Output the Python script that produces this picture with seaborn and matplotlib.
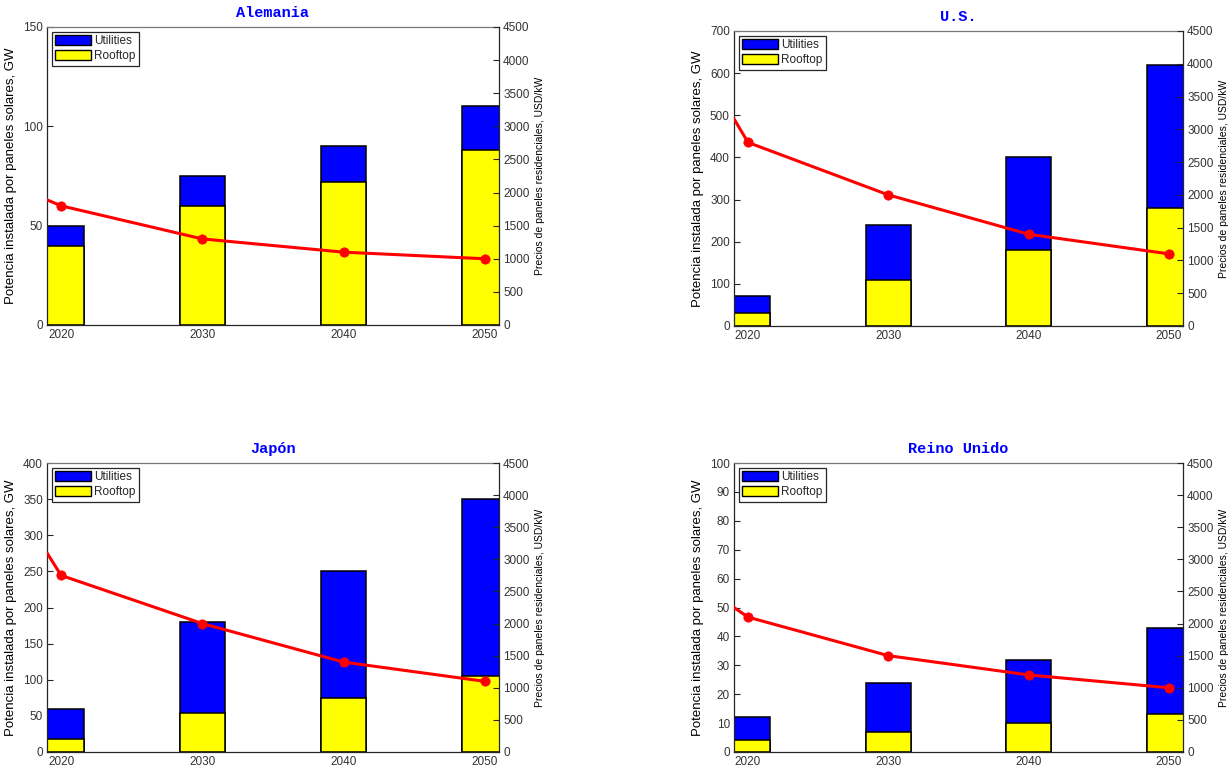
import pandas as pd
import numpy as np
import matplotlib.pyplot as plt
import seaborn as sns
from matplotlib.patches import Patch

# Potencia instalada (GW): total = utilities + rooftop, y la parte rooftop
years = [2020, 2030, 2040, 2050]

alemania_total = [50, 75, 90, 110]
alemania_rooftop = [40, 60, 72, 88]
us_total = [70, 240, 400, 620]
us_rooftop = [31.5, 108, 180, 279]
japon_total = [60, 180, 250, 350]
japon_rooftop = [18, 54, 75, 105]
uk_total = [12, 24, 32, 43]
uk_rooftop = [4, 7, 10, 13]

# Precios residenciales (USD/kW); el primer punto queda en el borde del eje
price_years = [2019, 2020, 2030, 2040, 2050]
alemania_price = [1890, 1800, 1300, 1100, 1000]
us_price = [3160, 2800, 2000, 1400, 1100]
japon_price = [3100, 2750, 2000, 1400, 1100]
uk_price = [2250, 2100, 1500, 1200, 1000]

titles = ['Alemania', 'U.S.', 'Japón', 'Reino Unido']
left_ymax = [150, 700, 400, 100]
left_ystep = [50, 100, 50, 10]

sns.set_theme(style='white')
plt.rcParams['font.family'] = ['Liberation Sans', 'DejaVu Sans']

W, H = 1230, 772
fig = plt.figure(figsize=(W / 100, H / 100), dpi=100)

# cajas de los ejes en pixeles: izquierda, arriba, derecha, abajo
boxes = [(47, 27, 499, 325), (734, 31, 1183, 326),
         (47, 463, 499, 752), (734, 463, 1183, 752)]

panels = [
    (alemania_total, alemania_rooftop, alemania_price),
    (us_total, us_rooftop, us_price),
    (japon_total, japon_rooftop, japon_price),
    (uk_total, uk_rooftop, uk_price),
]

dark = '#262626'

for i, (total, rooftop, price) in enumerate(panels):
    l, t, r, b = boxes[i]
    ax = fig.add_axes([l / W, 1 - b / H, (r - l) / W, (b - t) / H])

    bars = pd.DataFrame({'year': years, 'total': total, 'rooftop': rooftop})
    sns.barplot(data=bars, x='year', y='total', native_scale=True, width=0.32,
                color='#0000ff', edgecolor='black', linewidth=1.1,
                saturation=1, errorbar=None, ax=ax)
    sns.barplot(data=bars, x='year', y='rooftop', native_scale=True, width=0.32,
                color='#ffff00', edgecolor='black', linewidth=1.1,
                saturation=1, errorbar=None, ax=ax)

    ax2 = ax.twinx()
    prices = pd.DataFrame({'year': price_years, 'price': price})
    sns.lineplot(data=prices, x='year', y='price', color='#ff0000',
                 linewidth=2.2, ax=ax2)
    sns.scatterplot(data=prices[prices['year'].isin(years)], x='year', y='price',
                    color='#ff0000', edgecolor='#ff0000', s=45, zorder=5, ax=ax2)

    ax.set_xlim(2019, 2051)
    ax.set_xticks(years)
    ax.set_xticklabels([str(y) for y in years])
    ax.set_ylim(0, left_ymax[i])
    ax.set_yticks(np.arange(0, left_ymax[i] + 1, left_ystep[i]))
    ax2.set_ylim(0, 4500)
    ax2.set_yticks(np.arange(0, 4501, 500))
    ax2.set_xlim(2019, 2051)

    ax.set_xlabel('')
    ax.set_ylabel('Potencia instalada por paneles solares, GW', fontsize=9.5,
                  color='black', labelpad=4)
    ax2.set_xlabel('')
    ax2.set_ylabel('Precios de paneles residenciales, USD/kW', fontsize=7.5,
                   color='black', labelpad=4)

    ax.set_title(titles[i], fontfamily='Liberation Mono', fontweight='bold',
                 color='#0000ff', fontsize=11, pad=7)

    for a in (ax, ax2):
        a.tick_params(direction='in', length=4, width=0.8, colors=dark,
                      labelsize=8.5, pad=3)
    ax.tick_params(axis='both', labelcolor='#333333')
    ax2.tick_params(axis='y', labelcolor='#333333')

    for side in ['left', 'bottom']:
        ax.spines[side].set_color(dark)
        ax.spines[side].set_linewidth(0.9)
    ax.spines['top'].set_color('#777777')
    ax.spines['top'].set_linewidth(0.9)
    ax.spines['right'].set_visible(False)
    for side in ['left', 'bottom', 'top']:
        ax2.spines[side].set_visible(False)
    ax2.spines['right'].set_color(dark)
    ax2.spines['right'].set_linewidth(0.9)

    handles = [Patch(facecolor='#0000ff', edgecolor='black', label='Utilities'),
               Patch(facecolor='#ffff00', edgecolor='black', label='Rooftop')]
    leg = ax.legend(handles=handles, loc='upper left', fontsize=8.5, frameon=True,
                    fancybox=False, edgecolor=dark, framealpha=1,
                    handlelength=3.0, handleheight=0.9, borderaxespad=0.4,
                    borderpad=0.3, labelspacing=0.25, handletextpad=0.3)
    leg.get_frame().set_linewidth(0.9)

fig.savefig('out.png', dpi=100)
